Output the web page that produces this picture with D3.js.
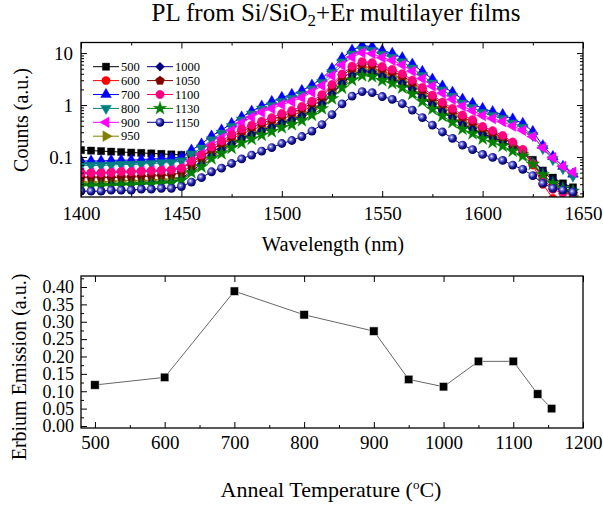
<!DOCTYPE html>
<html><head><meta charset="utf-8">
<script src="https://cdn.jsdelivr.net/npm/d3@7"></script>
<style>
body{margin:0;background:#fff}
svg{display:block}
text{font-family:"Liberation Serif","Times New Roman",serif;fill:#000}
</style>
</head><body>
<svg id="c" width="603" height="505"></svg>
<script>
// ---------- DATA ----------
const wavelengths = [1400,1405,1410,1415,1420,1425,1430,1435,1440,1445,1450,1455,1460,1465,1470,1475,1480,1485,1490,1495,1500,1505,1510,1515,1520,1525,1530,1535,1540,1545,1550,1555,1560,1565,1570,1575,1580,1585,1590,1595,1600,1605,1610,1615,1620,1625,1630,1635,1640,1645];

const s500 = [0.136,0.133,0.130,0.127,0.125,0.122,0.120,0.117,0.115,0.112,0.110,0.109,0.110,0.128,0.155,0.190,0.230,0.264,0.315,0.368,0.440,0.503,0.600,0.765,1.02,1.59,2.54,3.61,4.40,4.21,3.53,3.12,2.57,1.94,1.39,0.997,0.733,0.554,0.411,0.336,0.271,0.234,0.201,0.161,0.128,0.088,0.055,0.040,0.031,0.026];
const s600 = [0.050,0.050,0.050,0.051,0.052,0.052,0.053,0.054,0.055,0.056,0.060,0.079,0.101,0.139,0.175,0.221,0.277,0.329,0.393,0.459,0.550,0.628,0.749,0.954,1.27,1.98,3.17,4.50,5.50,5.25,4.41,3.90,3.20,2.42,1.74,1.24,0.915,0.692,0.513,0.420,0.338,0.288,0.240,0.183,0.133,0.070,0.030,0.016,0.012,0.010];
const s700 = [0.084,0.084,0.084,0.086,0.087,0.087,0.089,0.092,0.093,0.096,0.100,0.136,0.178,0.254,0.330,0.441,0.588,0.765,0.953,1.17,1.40,1.60,1.90,2.42,3.24,5.04,8.05,11.4,14.0,13.3,11.2,9.89,8.13,6.14,4.41,3.16,2.32,1.76,1.30,1.07,0.859,0.749,0.657,0.538,0.445,0.310,0.166,0.102,0.066,0.047];
const s800 = [0.069,0.069,0.069,0.070,0.072,0.072,0.073,0.075,0.077,0.078,0.084,0.114,0.149,0.213,0.289,0.386,0.515,0.669,0.835,0.976,1.17,1.34,1.59,2.03,2.71,4.22,6.74,9.57,11.7,11.2,9.37,8.28,6.81,5.14,3.69,2.65,1.95,1.47,1.09,0.892,0.719,0.627,0.550,0.451,0.372,0.259,0.146,0.089,0.060,0.043];
const s900 = [0.049,0.049,0.049,0.050,0.052,0.052,0.053,0.054,0.055,0.056,0.061,0.083,0.114,0.170,0.231,0.323,0.452,0.586,0.731,0.854,1.02,1.17,1.39,1.78,2.37,3.69,5.90,8.37,10.2,9.78,8.21,7.25,5.96,4.50,3.23,2.32,1.70,1.29,0.955,0.781,0.629,0.549,0.482,0.395,0.326,0.248,0.152,0.097,0.066,0.051];
const s950 = [0.033,0.033,0.033,0.034,0.035,0.035,0.035,0.036,0.037,0.038,0.042,0.059,0.079,0.113,0.147,0.191,0.243,0.289,0.345,0.403,0.482,0.551,0.657,0.837,1.12,1.74,2.78,3.95,4.82,4.61,3.87,3.42,2.81,2.12,1.52,1.09,0.803,0.607,0.451,0.368,0.291,0.244,0.206,0.161,0.122,0.079,0.046,0.030,0.022,0.018];
const s1000 = [0.029,0.029,0.029,0.030,0.030,0.030,0.031,0.032,0.032,0.033,0.038,0.054,0.073,0.106,0.138,0.180,0.232,0.276,0.329,0.385,0.460,0.526,0.627,0.799,1.07,1.66,2.66,3.77,4.60,4.40,3.69,3.26,2.68,2.03,1.45,1.04,0.767,0.579,0.430,0.352,0.280,0.239,0.201,0.158,0.122,0.084,0.053,0.036,0.028,0.024];
const s1050 = [0.040,0.040,0.040,0.040,0.041,0.041,0.042,0.043,0.044,0.045,0.050,0.069,0.095,0.139,0.184,0.244,0.316,0.376,0.449,0.524,0.628,0.718,0.856,1.09,1.46,2.27,3.62,5.14,6.28,6.00,5.04,4.45,3.66,2.76,1.98,1.42,1.05,0.790,0.587,0.480,0.358,0.293,0.240,0.179,0.133,0.075,0.042,0.028,0.022,0.020];
const s1100 = [0.049,0.049,0.049,0.050,0.052,0.052,0.053,0.054,0.055,0.056,0.061,0.083,0.109,0.156,0.203,0.271,0.345,0.411,0.490,0.573,0.686,0.784,0.935,1.19,1.59,2.48,3.96,5.62,6.86,6.56,5.50,4.86,4.00,3.02,2.17,1.55,1.14,0.863,0.641,0.524,0.386,0.322,0.259,0.194,0.140,0.075,0.038,0.024,0.020,0.019];
const s1130 = [0.028,0.028,0.028,0.028,0.029,0.029,0.030,0.030,0.031,0.032,0.036,0.050,0.065,0.093,0.117,0.149,0.186,0.221,0.264,0.309,0.369,0.422,0.503,0.641,0.857,1.33,2.13,3.02,3.69,3.53,2.96,2.62,2.15,1.63,1.17,0.836,0.615,0.465,0.345,0.282,0.224,0.191,0.163,0.130,0.104,0.073,0.046,0.031,0.025,0.022];
const s1150 = [0.022,0.022,0.022,0.023,0.023,0.023,0.024,0.024,0.025,0.025,0.027,0.033,0.040,0.052,0.061,0.075,0.092,0.109,0.130,0.152,0.182,0.208,0.248,0.316,0.422,0.657,1.05,1.49,1.82,1.74,1.46,1.29,1.06,0.801,0.575,0.412,0.303,0.229,0.170,0.139,0.112,0.098,0.086,0.070,0.058,0.044,0.031,0.025,0.023,0.021];

const seriesNames = ["500","600","700","800","900","950","1000","1050","1100","1130","1150"];
const seriesValues = [s500,s600,s700,s800,s900,s950,s1000,s1050,s1100,s1130,s1150];

const wlTicks = [1400,1450,1500,1550,1600,1650];
const countTicks = [0.1,1,10];
const countTickLabels = ["0.1","1","10"];

const annealTemps = [500,600,700,800,900,950,1000,1050,1100,1135,1155];
const erbiumEmission = [0.118,0.140,0.388,0.320,0.273,0.134,0.113,0.186,0.186,0.092,0.050];
const tempTicks = [500,600,700,800,900,1000,1100,1200];
const emissionTicks = [0,0.05,0.10,0.15,0.20,0.25,0.30,0.35,0.40];

// ---------- STYLES ----------
const colors = ["#000000","#ff0000","#0000ff","#008080","#ff00ff","#808000","#000080","#800000","#ff0080","#008000","#000080"];
const shapes = ["square","circle","up","down","left","right","diamond","pentagon","circle","star","sphere"];

const svg = d3.select("#c");
const defs = svg.append("defs");
const grad = defs.append("radialGradient").attr("id","sph").attr("cx","38%").attr("cy","38%").attr("r","62%");
[["0%","#ffffff"],["22%","#8a8ae8"],["60%","#1c1ca0"],["100%","#00005a"]].forEach(s=>grad.append("stop").attr("offset",s[0]).attr("stop-color",s[1]));

const pentagon = {draw(ctx,size){const r=Math.sqrt(size/2.378);for(let i=0;i<5;i++){const a=-Math.PI/2+i*2*Math.PI/5;const px=r*Math.cos(a),py=r*Math.sin(a);if(i===0)ctx.moveTo(px,py);else ctx.lineTo(px,py);}ctx.closePath();}};

function drawMarker(g, shape, color, cx, cy){
  if(shape==="sphere"){
    g.append("circle").attr("cx",cx).attr("cy",cy).attr("r",4.4).attr("fill","url(#sph)");
    return;
  }
  let type=d3.symbolCircle,size=56,rot=0;
  if(shape==="square"){type=d3.symbolSquare;size=52;}
  else if(shape==="up"){type=d3.symbolTriangle;size=50;}
  else if(shape==="down"){type=d3.symbolTriangle;size=50;rot=180;}
  else if(shape==="left"){type=d3.symbolTriangle;size=50;rot=-90;}
  else if(shape==="right"){type=d3.symbolTriangle;size=50;rot=90;}
  else if(shape==="diamond"){type=d3.symbolSquare;size=40;rot=45;}
  else if(shape==="pentagon"){type=pentagon;size=52;}
  else if(shape==="star"){type=d3.symbolStar;size=55;}
  g.append("path").attr("d",d3.symbol(type,size)())
    .attr("transform",`translate(${cx},${cy}) rotate(${rot})`)
    .attr("fill",color).attr("stroke",color).attr("stroke-width",0.4);
}

// ---------- TOP CHART ----------
const P1 = {l:81, r:583, t:42.5, b:197};
const x1 = d3.scaleLinear().domain([1400,1650]).range([P1.l,P1.r]);
const y1 = d3.scaleLog().domain([0.017,16]).range([P1.b,P1.t]);

defs.append("clipPath").attr("id","clip1").append("rect")
  .attr("x",P1.l).attr("y",P1.t).attr("width",P1.r-P1.l).attr("height",P1.b-P1.t);

const plot1 = svg.append("g").attr("clip-path","url(#clip1)");
const line1 = d3.line().x((d,i)=>x1(wavelengths[i])).y(d=>y1(d));
seriesValues.forEach((vals,si)=>{
  const g = plot1.append("g");
  g.append("path").attr("d",line1(vals)).attr("fill","none").attr("stroke",colors[si]).attr("stroke-width",1);
  vals.forEach((v,i)=>drawMarker(g,shapes[si],colors[si],x1(wavelengths[i]),y1(v)));
});

const wlMinor = d3.range(1425,1650,50);
const logMinor = [];
[0.01,0.1,1].forEach(dec=>{for(let k=2;k<=9;k++){const v=dec*k;if(v>0.017&&v<16)logMinor.push(v);}});

function tickAxis(axisFn, scale, vals, size, tx, ty, fmt, pad){
  const a = axisFn(scale).tickValues(vals).tickSize(size).tickSizeOuter(0).tickPadding(pad||3);
  a.tickFormat(fmt||(()=>""));
  const g = svg.append("g").attr("transform",`translate(${tx},${ty})`).call(a);
  g.attr("font-family",null);
  g.select(".domain").remove();
  g.selectAll(".tick line").attr("stroke","#000").attr("stroke-width",1);
  return g;
}
const xb1 = tickAxis(d3.axisBottom,x1,wlTicks,-6,0,P1.b,d=>d,10);
xb1.selectAll("text").attr("font-size",19);
tickAxis(d3.axisBottom,x1,wlMinor,-3,0,P1.b);
tickAxis(d3.axisTop,x1,wlTicks,-6,0,P1.t);
tickAxis(d3.axisTop,x1,wlMinor,-3,0,P1.t);
const yl1 = tickAxis(d3.axisLeft,y1,countTicks,-6,P1.l,0,(d,i)=>countTickLabels[i],8);
yl1.selectAll("text").attr("font-size",19);
tickAxis(d3.axisLeft,y1,logMinor,-3,P1.l,0);
tickAxis(d3.axisRight,y1,countTicks,-6,P1.r,0);
tickAxis(d3.axisRight,y1,logMinor,-3,P1.r,0);

svg.append("rect").attr("x",P1.l).attr("y",P1.t).attr("width",P1.r-P1.l).attr("height",P1.b-P1.t)
  .attr("fill","none").attr("stroke","#000").attr("stroke-width",1.3);

// legend
const leg = svg.append("g");
seriesNames.forEach((name,i)=>{
  const col = i<6?0:1, row = i<6?i:i-6;
  const lx = col===0?93:147, ly = 66.7+row*13.9;
  leg.append("line").attr("x1",lx).attr("x2",lx+26).attr("y1",ly).attr("y2",ly).attr("stroke",colors[i]).attr("stroke-width",1);
  drawMarker(leg,shapes[i],colors[i],lx+13,ly);
  leg.append("text").attr("x",lx+28).attr("y",ly+4.2).attr("font-size",12.5).text(name);
});

// titles
const title = svg.append("text").attr("x",336).attr("y",21).attr("text-anchor","middle").attr("font-size",25);
title.append("tspan").text("PL from Si/SiO");
title.append("tspan").attr("dy",5).attr("font-size",17).text("2");
title.append("tspan").attr("dy",-5).text("+Er multilayer films");

svg.append("text").attr("transform","translate(28,120) rotate(-90)").attr("text-anchor","middle").attr("font-size",20).text("Counts (a.u.)");
svg.append("text").attr("x",333).attr("y",251).attr("text-anchor","middle").attr("font-size",20.5).text("Wavelength (nm)");

// ---------- BOTTOM CHART ----------
const P2 = {l:81, r:583, t:276, b:428};
const x2 = d3.scaleLinear().domain([480,1200]).range([P2.l,P2.r]);
const y2 = d3.scaleLinear().domain([-0.0058,0.4317]).range([P2.b,P2.t]);

const xb2 = tickAxis(d3.axisBottom,x2,tempTicks,-6,0,P2.b,d=>d,8);
xb2.selectAll("text").attr("font-size",19);
tickAxis(d3.axisBottom,x2,d3.range(550,1200,100),-3,0,P2.b);
tickAxis(d3.axisTop,x2,tempTicks,-6,0,P2.t);
const yl2 = tickAxis(d3.axisLeft,y2,emissionTicks,-6,P2.l,0,d=>d3.format(".2f")(d),7);
yl2.selectAll("text").attr("font-size",18);
tickAxis(d3.axisLeft,y2,d3.range(0.025,0.43,0.05),-3,P2.l,0);

svg.append("rect").attr("x",P2.l).attr("y",P2.t).attr("width",P2.r-P2.l).attr("height",P2.b-P2.t)
  .attr("fill","none").attr("stroke","#000").attr("stroke-width",1.3);

const line2 = d3.line().x((d,i)=>x2(annealTemps[i])).y(d=>y2(d));
svg.append("path").attr("d",line2(erbiumEmission)).attr("fill","none").attr("stroke","#555").attr("stroke-width",0.9);
erbiumEmission.forEach((v,i)=>{
  svg.append("rect").attr("x",x2(annealTemps[i])-4.2).attr("y",y2(v)-4.2).attr("width",8.4).attr("height",8.4)
    .attr("fill","#000").attr("stroke","#ddd").attr("stroke-width",0.6);
});

svg.append("text").attr("transform","translate(26,367) rotate(-90)").attr("text-anchor","middle").attr("font-size",20).text("Erbium Emission (a.u.)");
const at = svg.append("text").attr("x",331).attr("y",497).attr("text-anchor","middle").attr("font-size",22);
at.append("tspan").text("Anneal Temperature (");
at.append("tspan").attr("dy",-8).attr("font-size",13).text("o");
at.append("tspan").attr("dy",8).text("C)");
</script>
</body></html>
